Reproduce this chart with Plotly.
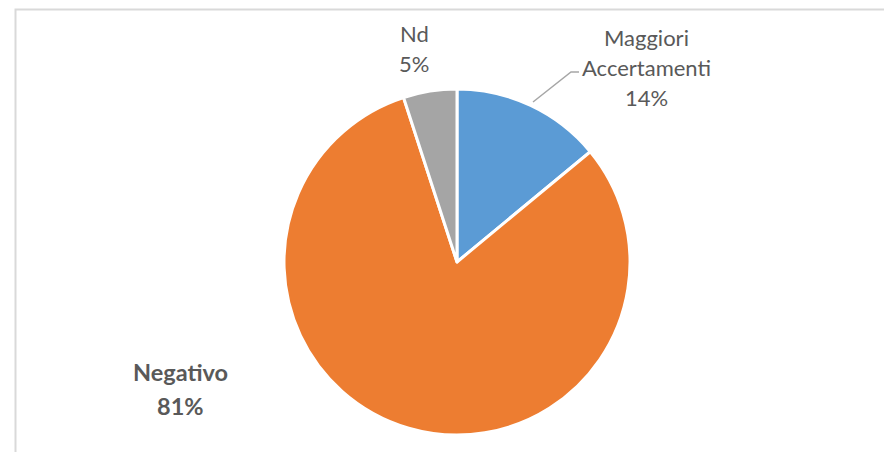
import plotly.graph_objects as go

labels = ["Maggiori Accertamenti", "Negativo", "Nd"]
values = [14, 81, 5]
colors = ["#5B9BD5", "#ED7D31", "#A5A5A5"]
label_lines = [["Maggiori", "Accertamenti", "14%"], ["<b>Negativo</b>", "<b>81%</b>"], ["Nd", "5%"]]

W, H = 892, 452
OFF = 8  # page body margin
def px(x): return (x - OFF) / W
def py(y): return 1 - (y - OFF) / H

cx, cy, r = 457, 262, 173

fig = go.Figure(go.Pie(
    labels=labels, values=values, sort=False, direction="clockwise", rotation=0,
    marker=dict(colors=colors, line=dict(color="white", width=3)),
    textinfo="none", hoverinfo="label+percent", showlegend=False,
    domain=dict(x=[px(cx - r), px(cx + r)], y=[py(cy + r), py(cy - r)]),
))

pos = [(646, 37, 30.5, 22), (180, 372, 34, 23.5), (414, 33, 30.5, 22)]
for lines, (x, y, dy, fs) in zip(label_lines, pos):
    for i, t in enumerate(lines):
        fig.add_annotation(x=px(x), y=py(y + i * dy), xref="paper", yref="paper", text=t,
                           showarrow=False,
                           font=dict(family="Lato, Open Sans, sans-serif", size=fs, color="#595959"),
                           align="center", xanchor="center", yanchor="middle")

fig.add_shape(type="path", xref="paper", yref="paper",
              path=f"M {px(533)} {py(102)} L {px(571)} {py(72)} L {px(579)} {py(72)}",
              line=dict(color="#A6A6A6", width=1.5))
fig.add_shape(type="rect", xref="paper", yref="paper",
              x0=px(15.5), x1=px(910), y0=py(470), y1=py(9.5),
              line=dict(color="#D9D9D9", width=2), fillcolor="rgba(0,0,0,0)")

fig.update_layout(width=W, height=H, margin=dict(l=0, r=0, t=0, b=0),
                  paper_bgcolor="white", plot_bgcolor="white")
fig.write_html("out.html")
